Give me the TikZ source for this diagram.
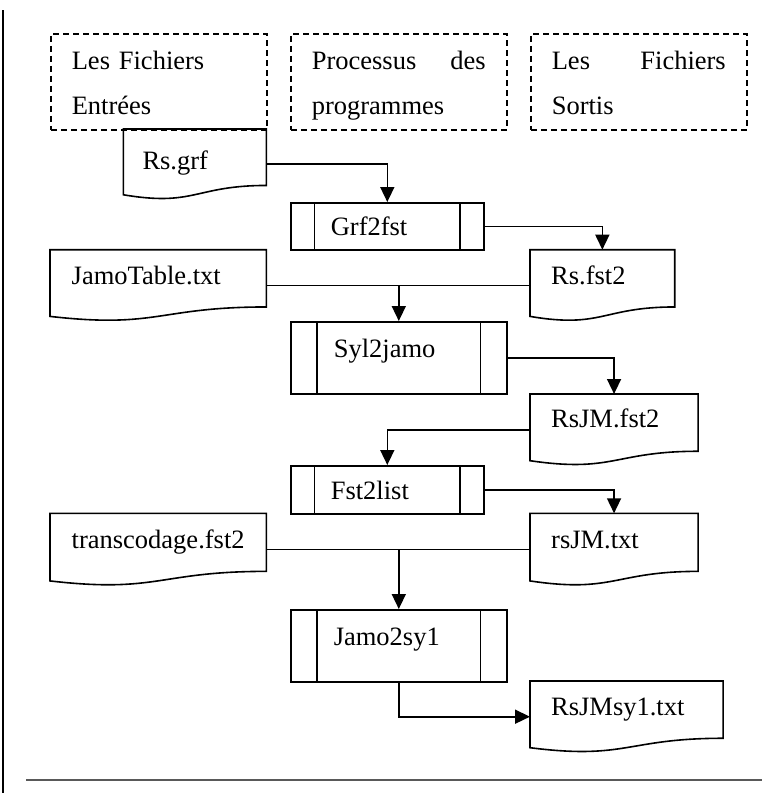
\documentclass[tikz,border=0pt]{standalone}
\usepackage{fontspec}
\setmainfont{Liberation Serif}
\usetikzlibrary{arrows.meta,calc}
\newcommand\docoutline[1]{\draw[shapeline] (#1.north west) -- (#1.north east) -- ($(#1.north east)!0.802!(#1.south east)$) .. controls ($(#1.north)!0.802!(#1.south)$) and ($(#1.north)!1.107!(#1.south)$) .. ($(#1.north west)!0.934!(#1.south west)$) -- cycle;}
\newcommand\procbars[1]{\draw[shapeline] ($(#1.north west)!0.125!(#1.north east)$) -- ($(#1.south west)!0.125!(#1.south east)$) ($(#1.north west)!0.875!(#1.north east)$) -- ($(#1.south west)!0.875!(#1.south east)$);}
\tikzset{
  basefont/.style={font=\fontsize{26.5}{45}\selectfont},
  shapeline/.style={line width=1.6pt, line join=miter},
  hdr/.style={basefont, draw, line width=1.6pt, dash pattern=on 6pt off 4pt, anchor=north west,
    inner xsep=21pt, inner ysep=0pt, text width=174pt, align=left, text height=35.3pt, text depth=60.7pt},
  docbox/.style={basefont, rectangle, anchor=north west, inner sep=0pt, align=left},
  procbox/.style={basefont, rectangle, draw, line width=1.6pt, anchor=north west, inner sep=0pt, align=left},
  conn/.style={line width=1.6pt},
  arr/.style={conn, -{Triangle[length=15pt,width=14pt]}}
}
\begin{document}
\begin{tikzpicture}[x=1pt,y=-1pt]
\useasboundingbox (0,0) rectangle (762,793);
% page rules
\draw[line width=2.4pt] (3,10) -- (3,793);
\draw[line width=2.6pt, color=black!65] (26,780) -- (762,780);
% header boxes
\node[hdr] (h1) at (50,33) {Les Fichiers\\Entrées};
\node[hdr] (h2) at (290,33) {Processus \hfill des\\programmes};
\node[hdr] (h3) at (530,33) {Les \hfill Fichiers\\Sortis};
% documents
\node[docbox, text width=142.7pt, text height=40pt, text depth=30pt] (rsgrf) at (123.3,129) {\hspace*{19pt}Rs.grf};
\node[docbox, text width=144.3pt, text height=34.5pt, text depth=36.5pt] (rsfst) at (530,249.7) {\hspace*{21pt}Rs.fst2};
\node[docbox, text width=216pt, text height=34.5pt, text depth=36.5pt] (jamo) at (50,249.7) {\hspace*{21.5pt}JamoTable.txt};
\node[docbox, text width=167.7pt, text height=33pt, text depth=38pt] (rsjmfst) at (530,394) {\hspace*{21pt}RsJM.fst2};
\node[docbox, text width=216pt, text height=35pt, text depth=37pt] (trans) at (50,513.3) {\hspace*{21.5pt}transcodage.fst2};
\node[docbox, text width=167.7pt, text height=35pt, text depth=37pt] (rsjmtxt) at (530,513.3) {\hspace*{21pt}rsJM.txt};
\node[docbox, text width=192.7pt, text height=34pt, text depth=37pt] (rsjmsyl) at (530,681) {\hspace*{21pt}RsJMsy1.txt};
\foreach \n in {rsgrf,rsfst,jamo,rsjmfst,trans,rsjmtxt,rsjmsyl} {\docoutline{\n}}
% processes
\node[procbox, text width=193pt, text height=33pt, text depth=14pt] (grf) at (290,202) {\hspace*{40pt}Grf2fst};
\node[procbox, text width=216pt, text height=35.7pt, text depth=36.3pt] (syl) at (290,321) {\hspace*{43pt}Syl2jamo};
\node[procbox, text width=193pt, text height=34pt, text depth=14pt] (fst) at (290,465) {\hspace*{40pt}Fst2list};
\node[procbox, text width=216pt, text height=36pt, text depth=36pt] (jsyl) at (290,609) {\hspace*{43pt}Jamo2sy1};
\foreach \n in {grf,syl,fst,jsyl} {\procbars{\n}}
% connectors
\draw[arr] (rsgrf.east) -| (grf.north);
\draw[arr] (grf.east) -| (rsfst.north);
\draw[conn] (jamo.east) -- (jamo.east -| rsfst.west);
\coordinate (j1) at (syl.north |- jamo.east);
\draw[arr] (j1) -- (syl.north);
\draw[arr] (syl.east) -| (rsjmfst.north);
\draw[arr] (rsjmfst.west) -| (fst.north);
\draw[arr] (fst.east) -| (rsjmtxt.north);
\draw[conn] (trans.east) -- (trans.east -| rsjmtxt.west);
\coordinate (j2) at (jsyl.north |- trans.east);
\draw[arr] (j2) -- (jsyl.north);
\draw[arr] (jsyl.south) |- (rsjmsyl.west);
\end{tikzpicture}
\end{document}
